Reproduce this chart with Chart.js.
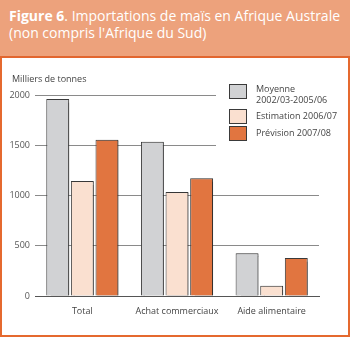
<!DOCTYPE html>
<html>
<head>
<meta charset="utf-8">
<script src="https://cdn.jsdelivr.net/npm/chart.js@4"></script>
<style>
  body { margin: 0; background: #fff; font-family: "Open Sans", sans-serif; }
  #cadre { position: relative; width: 350px; height: 337px; overflow: hidden; }
  #entete {
    position: absolute; left: 0; top: 0; width: 350px; height: 56px;
    background: #eda27c; border-bottom: 2px solid #e2662f;
    color: #fff; font-size: 14px; line-height: 17px;
  }
  #entete div { padding: 7px 0 0 9px; }
  #panneau {
    position: absolute; left: 0; top: 58px; width: 346px; height: 277px;
    border: 2px solid #e5692f; border-top: none;
  }
  #unite { position: absolute; left: 10px; top: 14px; font-size: 9px; color: #444; }
  #legende {
    position: absolute; left: 214px; top: 26px; width: 104px; height: 68px;
    background: #fff; font-size: 9px; color: #444;
  }
  .item { position: absolute; left: 13px; }
  .carre { position: absolute; left: 0; top: 0; width: 16px; height: 13px; border: 1px solid #3a3a3a; }
  .texte { position: absolute; left: 27px; line-height: 11px; white-space: nowrap; }
  canvas { position: absolute; left: 0; top: 0; }
</style>
</head>
<body>
<div id="cadre">
  <div id="entete"><div><b>Figure 6</b>. Importations de maïs en Afrique Australe<br>(non compris l'Afrique du Sud)</div></div>
  <div id="panneau">
    <canvas id="graphique" width="346" height="277"></canvas>
    <div id="unite">Milliers de tonnes</div>
    <div id="legende"></div>
  </div>
</div>
<script>
var categories = ["Total", "Achat commerciaux", "Aide alimentaire"];
var series = [
    ["Moyenne", "2002/03-2005/06"],
    ["Estimation 2006/07"],
    ["Prévision 2007/08"]
];
var moyenne    = [1960, 1535, 425];
var estimation = [1145, 1035, 102];
var prevision  = [1555, 1172, 378];
var ticksY = [0, 500, 1000, 1500, 2000];

var couleurs = ["#d1d2d4", "#fae0d0", "#e17540"];
var valeurs = [moyenne, estimation, prevision];

// Legende en HTML, par-dessus les lignes de grille
var legende = document.getElementById("legende");
var hauts = [0, 25, 42];
series.forEach(function (s, i) {
    var txtTop = s.length > 1 ? -1 : 1;
    legende.innerHTML +=
        '<div class="item" style="top:' + hauts[i] + 'px">' +
            '<div class="carre" style="background:' + couleurs[i] + '"></div>' +
            '<div class="texte" style="top:' + txtTop + 'px">' + s.join("<br>") + "</div>" +
        "</div>";
});

// ombre legere derriere les barres
var ombre = {
    id: "ombre",
    beforeDatasetsDraw: function (chart) {
        var ctx = chart.ctx;
        ctx.save();
        ctx.shadowColor = "rgba(0,0,0,0.35)";
        ctx.shadowOffsetX = 1.5;
        ctx.shadowOffsetY = 0.5;
        ctx.shadowBlur = 1;
    },
    afterDatasetsDraw: function (chart) {
        chart.ctx.restore();
    }
};

new Chart(document.getElementById("graphique"), {
    type: "bar",
    data: {
        labels: categories,
        datasets: valeurs.map(function (v, i) {
            return {
                label: series[i].join(" "),
                data: v,
                backgroundColor: couleurs[i],
                borderColor: "#3a3a3a",
                borderWidth: 1,
                categoryPercentage: 0.78,
                barPercentage: 0.93
            };
        })
    },
    options: {
        responsive: false,
        animation: false,
        events: [],
        layout: { padding: { left: 0, top: 37, right: 29, bottom: 0 } },
        plugins: { legend: { display: false }, tooltip: { enabled: false } },
        scales: {
            x: {
                grid: { display: false },
                border: { color: "#555", width: 1 },
                ticks: {
                    color: "#444",
                    font: { family: "'Open Sans', sans-serif", size: 9 },
                    padding: 2
                },
                afterFit: function (s) { s.height = 39; }
            },
            y: {
                min: 0,
                max: 2000,
                afterBuildTicks: function (s) {
                    s.ticks = ticksY.map(function (t) { return { value: t }; });
                },
                grid: { color: "#8a8a8a", lineWidth: 1, drawTicks: false },
                border: { display: false },
                ticks: {
                    color: "#555",
                    padding: 5,
                    font: { family: "'Open Sans', sans-serif", size: 9 },
                    callback: function (v) { return String(v); }
                },
                afterFit: function (s) { s.width = 33; }
            }
        }
    },
    plugins: [ombre]
});
</script>
</body>
</html>
